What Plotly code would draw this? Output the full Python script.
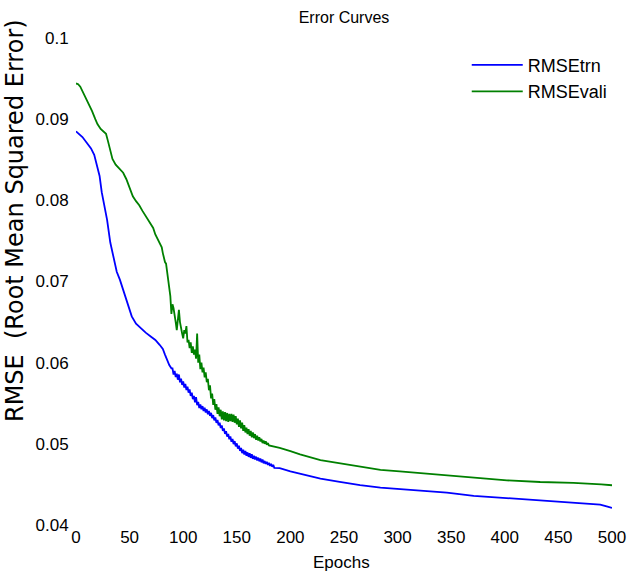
import plotly.graph_objects as go

# ---------------- data ----------------
trn_epochs = [0, 3, 6, 10, 14, 17, 20, 22, 24, 27, 29, 32, 35, 38, 41, 44, 48, 52, 56, 60,
              65, 70, 74, 78, 81, 83, 85, 87, 89] + list(range(90, 186)) + \
             [190, 200, 210, 228, 246, 265, 284, 302, 321, 346, 371, 402, 433, 464, 480, 489, 495, 500]
trn_values = [0.0885, 0.0882, 0.0878, 0.0871, 0.0864, 0.0856, 0.0842, 0.0830, 0.0810, 0.0790,
              0.0776, 0.0748, 0.0728, 0.0712, 0.0702, 0.0690, 0.0672, 0.0657, 0.0648, 0.0643,
              0.0637, 0.0632, 0.0628, 0.0622, 0.0617, 0.0610, 0.0603, 0.0597, 0.0593,
              # epochs 90-185 (noisy part)
              0.05930, 0.05854, 0.05898, 0.05822, 0.05866, 0.05790, 0.05854, 0.05758, 0.05802, 0.05726,
              0.05770, 0.05694, 0.05738, 0.05662, 0.05706, 0.05630, 0.05670, 0.05590, 0.05630, 0.05550,
              0.05590, 0.05512, 0.05574, 0.05476, 0.05518, 0.05440, 0.05485, 0.05425, 0.05465, 0.05405,
              0.05445, 0.05385, 0.05425, 0.05365, 0.05405, 0.05345, 0.05381, 0.05317, 0.05353, 0.05289,
              0.05325, 0.05259, 0.05293, 0.05227, 0.05261, 0.05195, 0.05227, 0.05159, 0.05191, 0.05123,
              0.05155, 0.05089, 0.05123, 0.05057, 0.05091, 0.05025, 0.05061, 0.04997, 0.05033, 0.04969,
              0.05005, 0.04941, 0.04977, 0.04913, 0.04949, 0.04885, 0.04927, 0.04869, 0.04911, 0.04853,
              0.04895, 0.04839, 0.04883, 0.04827, 0.04871, 0.04815, 0.04854, 0.04808, 0.04842, 0.04796,
              0.04830, 0.04784, 0.04818, 0.04772, 0.04806, 0.04760, 0.04789, 0.04753, 0.04777, 0.04741,
              0.04765, 0.04729, 0.04753, 0.04717, 0.04741, 0.04705,
              0.0470, 0.0466, 0.0463, 0.0457, 0.0453, 0.0449, 0.0446, 0.0444, 0.0442, 0.0440,
              0.0436, 0.0433, 0.0430, 0.0427, 0.0426, 0.0425, 0.0423, 0.0421]

vali_epochs = [0, 2, 4, 7, 10, 12, 15, 18, 20, 23, 26, 28, 30, 32, 34, 37, 41, 44, 47, 50,
               53, 56, 59, 62, 65, 68, 70, 72, 74, 76, 78, 80, 81, 82, 83, 84, 85, 86, 87, 88] + \
              list(range(89, 181)) + \
              [190, 200, 209, 228, 246, 265, 284, 302, 321, 346, 371, 402, 433, 464, 490, 500]
vali_values = [0.0944, 0.0943, 0.0940, 0.0932, 0.0924, 0.0920, 0.0910, 0.0900, 0.0894, 0.0888,
               0.0885, 0.0882, 0.0872, 0.0860, 0.0851, 0.0844, 0.0839, 0.0834, 0.0826, 0.0816,
               0.0805, 0.0799, 0.0794, 0.0787, 0.0781, 0.0775, 0.0771, 0.0766, 0.0758, 0.0752,
               0.0746, 0.0742, 0.0735, 0.0728, 0.0724, 0.0722, 0.0710, 0.0700, 0.0692, 0.0682,
               # epochs 89-180 (noisy part)
               0.0660, 0.0672, 0.0667, 0.0655, 0.0650, 0.0640, 0.0658, 0.0665, 0.0650, 0.0640,
               0.0636, 0.0630, 0.0640, 0.0636, 0.0645, 0.0625, 0.0628, 0.0618, 0.0625, 0.0612,
               0.0620, 0.0610, 0.0616, 0.0605, 0.0636, 0.0600, 0.0610, 0.0592, 0.0600, 0.0588,
               0.0594, 0.0582, 0.0588, 0.0576, 0.0580, 0.0566, 0.0572, 0.0556, 0.0562, 0.0548,
               0.0555, 0.0542, 0.0549, 0.0537, 0.0545, 0.0534, 0.0542, 0.0530, 0.0540, 0.0529,
               0.0539, 0.0528, 0.0538, 0.0527, 0.0537, 0.0528, 0.0537, 0.0527, 0.0536, 0.0526,
               0.0534, 0.0524, 0.0531, 0.0521, 0.0529, 0.0519, 0.0526, 0.0516, 0.0523, 0.0514,
               0.0520, 0.0512, 0.0518, 0.0510, 0.0516, 0.0508, 0.0514, 0.0507, 0.0512, 0.0505,
               0.0510, 0.0504, 0.0508, 0.0503, 0.0506, 0.0501, 0.0504, 0.0500, 0.0503, 0.0499,
               0.0501, 0.0498,
               0.0495, 0.0491, 0.0487, 0.0480, 0.0476, 0.0472, 0.0468, 0.0466, 0.0464, 0.0461,
               0.0459, 0.0455, 0.0453, 0.0452, 0.0450, 0.0449]

series_names = ["RMSEtrn", "RMSEvali"]
x_ticks = [0, 50, 100, 150, 200, 250, 300, 350, 400, 450, 500]
y_ticks = [0.04, 0.05, 0.06, 0.07, 0.08, 0.09, 0.1]
y_tick_labels = ["0.04", "0.05", "0.06", "0.07", "0.08", "0.09", "0.1"]

chart_title = "Error Curves"
x_title = "Epochs"
y_title = "RMSE  (Root Mean Squared Error)"

# ---------------- figure ----------------
FONT = "Liberation Sans Narrow, Arial Narrow, Liberation Sans, Arial, sans-serif"

fig = go.Figure()
fig.add_trace(go.Scatter(x=trn_epochs, y=trn_values, mode="lines", name=series_names[0],
                         line=dict(color="#0000FF", width=1.8)))
fig.add_trace(go.Scatter(x=vali_epochs, y=vali_values, mode="lines", name=series_names[1],
                         line=dict(color="#008000", width=1.8)))

fig.update_layout(
    width=628, height=581,
    margin=dict(l=76, r=16, t=38, b=56, autoexpand=False),
    paper_bgcolor="white", plot_bgcolor="white",
    font=dict(family=FONT, size=17, color="black"),
    title=dict(text=chart_title, x=0.5, xref="paper", xanchor="center",
               y=0.97, yref="container", yanchor="middle",
               font=dict(family=FONT, size=16, color="black")),
    showlegend=True,
    legend=dict(x=0.729, y=0.982, xanchor="left", yanchor="top",
                bgcolor="rgba(0,0,0,0)", itemwidth=51,
                font=dict(family=FONT, size=18, color="black"),
                tracegroupgap=0),
    xaxis=dict(range=[0, 500], tickvals=x_ticks, showgrid=False, zeroline=False,
               showline=False, ticks="", automargin=False,
               tickfont=dict(family=FONT, size=17)),
    yaxis=dict(range=[0.04, 0.1], tickvals=y_ticks, ticktext=y_tick_labels,
               showgrid=False, zeroline=False, showline=False,
               ticks="outside", ticklen=3, tickcolor="rgba(0,0,0,0)", automargin=False,
               tickfont=dict(family=FONT, size=17)),
)

fig.add_annotation(text=x_title, xref="paper", yref="paper",
                   x=0.495, y=-0.078, xanchor="center", yanchor="middle",
                   showarrow=False, font=dict(family=FONT, size=17, color="black"))

fig.add_annotation(text=y_title, textangle=-90, xref="paper", yref="paper",
                   x=-0.114, y=0.626, xanchor="center", yanchor="middle",
                   showarrow=False,
                   font=dict(family="DejaVu Sans, Liberation Sans, sans-serif", size=24, color="black"))

fig.write_html("out.html", config={"displayModeBar": False},
               post_script="document.body.style.margin='0';document.body.style.overflow='hidden';")
